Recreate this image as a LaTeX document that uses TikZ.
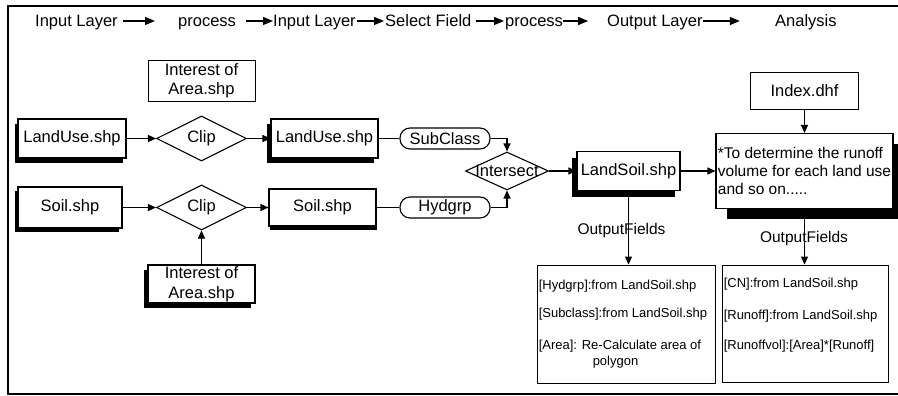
\documentclass[tikz,border=0pt]{standalone}
\usepackage{fontspec}
\setmainfont{Liberation Sans}
\usetikzlibrary{arrows.meta,shapes.geometric,shadows}
\begin{document}
\begin{tikzpicture}[x=1pt,y=-1pt,
  big/.style={font=\fontsize{16.5}{19.5}\selectfont},
  mid/.style={font=\fontsize{15.5}{18}\selectfont},
  small/.style={font=\fontsize{13}{15}\selectfont},
  head/.style={big, anchor=base west, inner sep=0pt},
  layerbox/.style={big, draw, fill=white, line width=1.1pt, inner sep=0pt, align=center},
  plainbox/.style={layerbox, line width=0.9pt},
  sh/.style 2 args={drop shadow={shadow xshift=#1, shadow yshift=#2, fill=black, opacity=1}},
  fieldbox/.style={big, draw, fill=white, line width=1.1pt, rounded corners=10pt,
    minimum width=90pt, minimum height=21pt, inner sep=0pt},
  op/.style={big, draw, fill=white, shape=diamond, aspect=2, line width=1.1pt,
    inner sep=0pt, minimum width=90pt, minimum height=45pt},
  listbox/.style={draw, line width=0.9pt, inner sep=0pt},
  item/.style={small, anchor=west, inner sep=0pt},
  conn/.style={line width=1.1pt, -{Triangle[length=8pt,width=7pt]}},
  link/.style={line width=1.1pt},
  harrow/.style={line width=1.2pt, -{Triangle[length=10pt,width=8pt]}}
]
\useasboundingbox (0,0) rectangle (898,396);

% outer frame, open on the right
\draw[line width=2.5pt] (910,6) -- (8,6) -- (8,394) -- (910,394);

% stage headings
\node[head] (h1) at (35,27)  {Input Layer};
\node[head] (h2) at (178,27) {process};
\node[head] (h3) at (273,27) {Input Layer};
\node[head] (h4) at (385,27) {Select Field};
\node[head] (h5) at (505,27) {process};
\node[head] (h6) at (607,27) {Output Layer};
\node[head] (h7) at (775,27) {Analysis};
\draw[harrow] ([shift={(5,-6)}]h1.base east) -- ([shift={(-23,-6)}]h2.base west);
\draw[harrow] ([shift={(10,-6)}]h2.base east) -- ([shift={(0,-6)}]h3.base west);
\draw[harrow] ([shift={(1,-6)}]h3.base east) -- ([shift={(-1,-6)}]h4.base west);
\draw[harrow] ([shift={(4,-6)}]h4.base east) -- ([shift={(-1,-6)}]h5.base west);
\draw[harrow] ([shift={(0,-6)}]h5.base east) -- ([shift={(25,-6)}]h5.base east);
\draw[harrow] ([shift={(0,-6)}]h6.base east) -- ([shift={(37,-6)}]h6.base east);

% input layers
\node[plainbox, minimum width=107pt, minimum height=41pt] (aoiTop) at (201.5,80.5) {Interest of\\Area.shp};
\node[layerbox, sh={-3pt}{-5pt}, minimum width=108pt, minimum height=39pt] (lu1) at (72,138.5) {LandUse.shp};
\node[layerbox, sh={-3pt}{-4pt}, minimum width=104pt, minimum height=41pt] (soil1) at (70,207.5) {Soil.shp};
\node[layerbox, sh={-4pt}{-5pt}, minimum width=107pt, minimum height=38pt] (aoiBot) at (201.5,284) {Interest of\\Area.shp};

% clipping
\node[op] (clip1) at (201.5,138.5) {Clip};
\node[op] (clip2) at (201.5,207.5) {Clip};

% clipped layers
\node[layerbox, sh={-4pt}{-5pt}, minimum width=107pt, minimum height=39pt] (lu2) at (324.5,138.5) {LandUse.shp};
\node[layerbox, sh={1pt}{-4pt}, minimum width=107pt, minimum height=37pt] (soil2) at (322.5,207.5) {Soil.shp};

% selected fields
\node[fieldbox] (sub) at (445,138.5) {SubClass};
\node[fieldbox] (hyd) at (445,207.5) {Hydgrp};

% overlay
\node[op, minimum width=83pt, minimum height=38pt, label={[big]center:Intersect}] (isect) at (507,171) {};
\node[layerbox, sh={-5pt}{-6pt}, minimum width=103pt, minimum height=39pt] (ls) at (628.5,171) {LandSoil.shp};

% analysis
\node[plainbox, minimum width=108pt, minimum height=37pt] (idx) at (804.5,90.5) {Index.dhf};
\node[layerbox, mid, align=left, sh={11pt}{-10pt}, minimum width=177pt, minimum height=75pt] (an) at (804.5,171)
  {*To determine the runoff\\volume for each land use\\and so on.....};

% output field lists
\node[listbox, minimum width=178pt, minimum height=118pt] (outl) at (626,324) {};
\node[listbox, minimum width=166pt, minimum height=117pt] (outr) at (805,323.5) {};

% connectors
\draw[conn] (lu1) -- (clip1);
\draw[conn] (soil1) -- (clip2);
\draw[conn] (clip1) -- (lu2);
\draw[conn] (clip2) -- (soil2);
\draw[conn] (aoiBot.north) -- (aoiBot.north |- clip2.south);
\draw[link] (lu2) -- (sub);
\draw[link] (soil2) -- (hyd);
\draw[conn] (sub.east) -| (isect.north);
\draw[conn] (hyd.east) -| (isect.south);
\draw[conn] (isect) -- (ls);
\draw[conn] (ls) -- (an);
\draw[conn] (idx) -- (an);
\draw[conn] (ls.south) -- (ls.south |- outl.north);
\draw[conn] (an.south) -- (an.south |- outr.north);

% field list labels and entries
\node[mid, inner sep=0pt] (ofl) at (621.5,230) {OutputFields};
\node[mid, inner sep=0pt] (ofr) at (804,238) {OutputFields};

\node[item] (l1) at ([shift={(2,22)}]outl.north west) {[Hydgrp]:from LandSoil.shp};
\node[item] (l2) at ([shift={(2,50)}]outl.north west) {[Subclass]:from LandSoil.shp};
\node[item] (l3) at ([shift={(2,82)}]outl.north west) {[Area]: Re-Calculate area of};
\node[item] (l4) at ([shift={(56,98)}]outl.north west) {polygon};

\node[item] (r1) at ([shift={(2,20)}]outr.north west) {[CN]:from LandSoil.shp};
\node[item] (r2) at ([shift={(2,52)}]outr.north west) {[Runoff]:from LandSoil.shp};
\node[item] (r3) at ([shift={(2,82)}]outr.north west) {[Runoffvol]:[Area]*[Runoff]};
\end{tikzpicture}
\end{document}
